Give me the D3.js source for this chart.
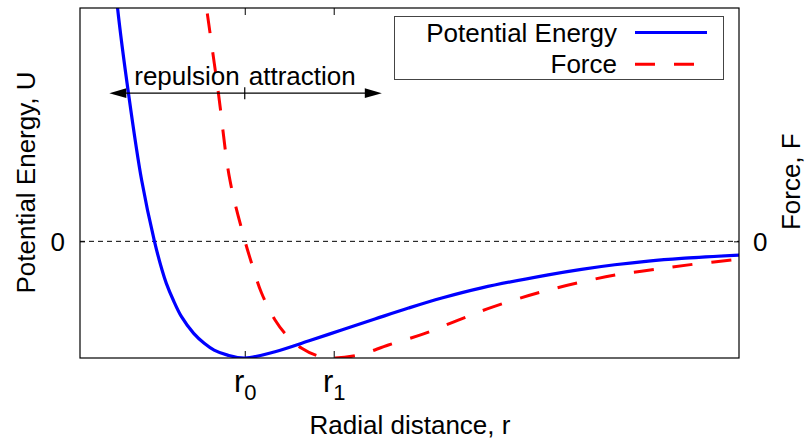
<!DOCTYPE html>
<html>
<head>
<meta charset="utf-8">
<script src="https://cdn.jsdelivr.net/npm/d3@7"></script>
<style>
  body { margin: 0; background: #fff; }
  text { font-family: "Liberation Sans", Arial, Helvetica, sans-serif; fill: #000; }
</style>
</head>
<body>
<div id="chart"></div>
<script>
// values (r in arbitrary units, r0 = 1)
var rPotential = [0.605, 0.614, 0.647, 0.687, 0.726, 0.749, 0.762, 0.783, 0.808, 0.845, 0.877, 0.907, 0.948, 1.0,
    1.092, 1.193, 1.294, 1.395, 1.497, 1.598, 1.719, 1.921, 2.022, 2.123, 2.225, 2.326, 2.505];
var potential = [2.283, 2.0, 1.271, 0.525, 0.0, -0.246, -0.360, -0.503, -0.646, -0.789, -0.874, -0.932, -0.975, -1.0,
    -0.946, -0.855, -0.760, -0.666, -0.572, -0.486, -0.399, -0.287, -0.240, -0.201, -0.169, -0.146, -0.117];

var rForce = [0.870, 0.884, 0.920, 0.955, 1.001, 1.021, 1.051, 1.092, 1.122, 1.173, 1.223, 1.27,
    1.345, 1.436, 1.547, 1.648, 1.749, 1.891, 2.012, 2.124, 2.245, 2.366, 2.505];
var force = [2.283, 2.0, 1.271, 0.525, 0.0, -0.189, -0.443, -0.675, -0.789, -0.917, -0.983, -1.0,
    -0.975, -0.889, -0.789, -0.675, -0.566, -0.441, -0.355, -0.289, -0.240, -0.195, -0.152];

var rTicks = [1.0, 1.27];
var rTickSubs = ["0", "1"];
var yTicks = [0];
var seriesNames = ["Potential Energy", "Force"];
var arrowSpan = [0.589, 1.416];   // repulsion / attraction arrow, at U = 1.27
var arrowLevel = 1.27;

var svgWidth = 805;
var svgHeight = 441;
var margin = { top: 8, right: 66, bottom: 83, left: 80 };
var width = svgWidth - margin.left - margin.right;
var height = svgHeight - margin.top - margin.bottom;

var svg = d3.select("#chart")
    .append("svg")
    .attr("width", svgWidth)
    .attr("height", svgHeight);

var chartGroup = svg.append("g")
    .attr("transform", `translate(${margin.left}, ${margin.top})`);

var xScale = d3.scaleLinear().domain([0.5, 2.5]).range([0, width]);
var yU = d3.scaleLinear().domain([-1, 2]).range([height, 0]);
var yF = d3.scaleLinear().domain([-1, 2]).range([height, 0]);

svg.append("defs").append("clipPath")
    .attr("id", "plotClip")
    .append("rect")
    .attr("width", width)
    .attr("height", height);

// zero line
chartGroup.append("line")
    .attr("x1", 0)
    .attr("x2", width)
    .attr("y1", yU(0))
    .attr("y2", yU(0))
    .attr("stroke", "#000")
    .attr("stroke-width", 1)
    .attr("stroke-dasharray", "5,4");

// axes
var bottomAxis = d3.axisBottom(xScale).tickValues(rTicks).tickSize(-7).tickFormat("");
var topAxis = d3.axisTop(xScale).tickValues(rTicks).tickSize(-7).tickFormat("");
var leftAxis = d3.axisLeft(yU).tickValues(yTicks).tickSize(-5).tickFormat("");
var rightAxis = d3.axisRight(yF).tickValues(yTicks).tickSize(-5).tickFormat("");

var xAxis = chartGroup.append("g")
    .attr("transform", `translate(0, ${height})`)
    .call(bottomAxis);
chartGroup.append("g").call(topAxis);
var yAxisLeft = chartGroup.append("g").call(leftAxis);
var yAxisRight = chartGroup.append("g")
    .attr("transform", `translate(${width}, 0)`)
    .call(rightAxis);

chartGroup.selectAll(".domain").remove();
chartGroup.selectAll(".tick line").attr("stroke", "#000");

xAxis.selectAll(".tick").each(function(d, i) {
    var t = d3.select(this).append("text")
        .attr("y", 34)
        .attr("text-anchor", "middle")
        .style("font-size", "31px");
    t.append("tspan").text("r");
    t.append("tspan")
        .attr("dy", 7.6)
        .style("font-size", "22px")
        .text(rTickSubs[i]);
});

yAxisLeft.selectAll(".tick").append("text")
    .attr("x", -15)
    .attr("dy", "0.35em")
    .attr("text-anchor", "end")
    .style("font-size", "26px")
    .text(d => d);

yAxisRight.selectAll(".tick").append("text")
    .attr("x", 14)
    .attr("dy", "0.35em")
    .attr("text-anchor", "start")
    .style("font-size", "26px")
    .text(d => d);

// curves
var plotArea = chartGroup.append("g").attr("clip-path", "url(#plotClip)");

var lineU = d3.line()
    .x((d, i) => xScale(rPotential[i]))
    .y(d => yU(d))
    .curve(d3.curveCatmullRom.alpha(0.5));

var lineF = d3.line()
    .x((d, i) => xScale(rForce[i]))
    .y(d => yF(d))
    .curve(d3.curveCatmullRom.alpha(0.5));

plotArea.append("path")
    .datum(force)
    .attr("d", lineF)
    .attr("fill", "none")
    .attr("stroke", "#ff0000")
    .attr("stroke-width", 3)
    .attr("stroke-dasharray", "20,19");

plotArea.append("path")
    .datum(potential)
    .attr("d", lineU)
    .attr("fill", "none")
    .attr("stroke", "#0000ff")
    .attr("stroke-width", 3.2);

// frame
chartGroup.append("rect")
    .attr("width", width)
    .attr("height", height)
    .attr("fill", "none")
    .attr("stroke", "#000")
    .attr("stroke-width", 1.2);

// repulsion / attraction arrow
var ay = yU(arrowLevel);
var ax1 = xScale(arrowSpan[0]);
var ax2 = xScale(arrowSpan[1]);
var ax0 = xScale(rTicks[0]);
chartGroup.append("line")
    .attr("x1", ax1 + 8).attr("x2", ax2 - 8)
    .attr("y1", ay).attr("y2", ay)
    .attr("stroke", "#000")
    .attr("stroke-width", 1.2);
chartGroup.append("line")
    .attr("x1", ax0).attr("x2", ax0)
    .attr("y1", ay - 6).attr("y2", ay + 6)
    .attr("stroke", "#000")
    .attr("stroke-width", 1.2);
chartGroup.append("path")
    .attr("d", `M${ax1},${ay}L${ax1 + 17},${ay - 4.8}L${ax1 + 17},${ay + 4.8}Z`)
    .attr("fill", "#000");
chartGroup.append("path")
    .attr("d", `M${ax2},${ay}L${ax2 - 17},${ay - 4.8}L${ax2 - 17},${ay + 4.8}Z`)
    .attr("fill", "#000");
chartGroup.append("text")
    .attr("x", ax0 - 5)
    .attr("y", ay - 8)
    .attr("text-anchor", "end")
    .style("font-size", "26px")
    .text("repulsion");
chartGroup.append("text")
    .attr("x", ax0 + 4)
    .attr("y", ay - 8)
    .attr("text-anchor", "start")
    .style("font-size", "26px")
    .text("attraction");

// legend
var legend = svg.append("g");
legend.append("rect")
    .attr("x", 394.5)
    .attr("y", 16.5)
    .attr("width", 329)
    .attr("height", 63)
    .attr("fill", "#fff")
    .attr("stroke", "#444")
    .attr("stroke-width", 1);

var legendStyles = [
    { color: "#0000ff", dash: null },
    { color: "#ff0000", dash: "20,19" }
];
seriesNames.forEach(function(name, i) {
    var ly = 32.5 + i * 31.8;
    legend.append("text")
        .attr("x", 617)
        .attr("y", ly + 9)
        .attr("text-anchor", "end")
        .style("font-size", "26px")
        .text(name);
    legend.append("line")
        .attr("x1", 635)
        .attr("x2", 707)
        .attr("y1", ly)
        .attr("y2", ly)
        .attr("stroke", legendStyles[i].color)
        .attr("stroke-width", 3)
        .attr("stroke-dasharray", legendStyles[i].dash);
});

// axis titles
svg.append("text")
    .attr("transform", "translate(35, 182.5) rotate(-90)")
    .attr("text-anchor", "middle")
    .style("font-size", "26px")
    .text("Potential Energy, U");

svg.append("text")
    .attr("transform", "translate(800, 181.7) rotate(-90)")
    .attr("text-anchor", "middle")
    .style("font-size", "26px")
    .text("Force, F");

svg.append("text")
    .attr("x", 410)
    .attr("y", 434)
    .attr("text-anchor", "middle")
    .style("font-size", "26px")
    .text("Radial distance, r");
</script>
</body>
</html>
